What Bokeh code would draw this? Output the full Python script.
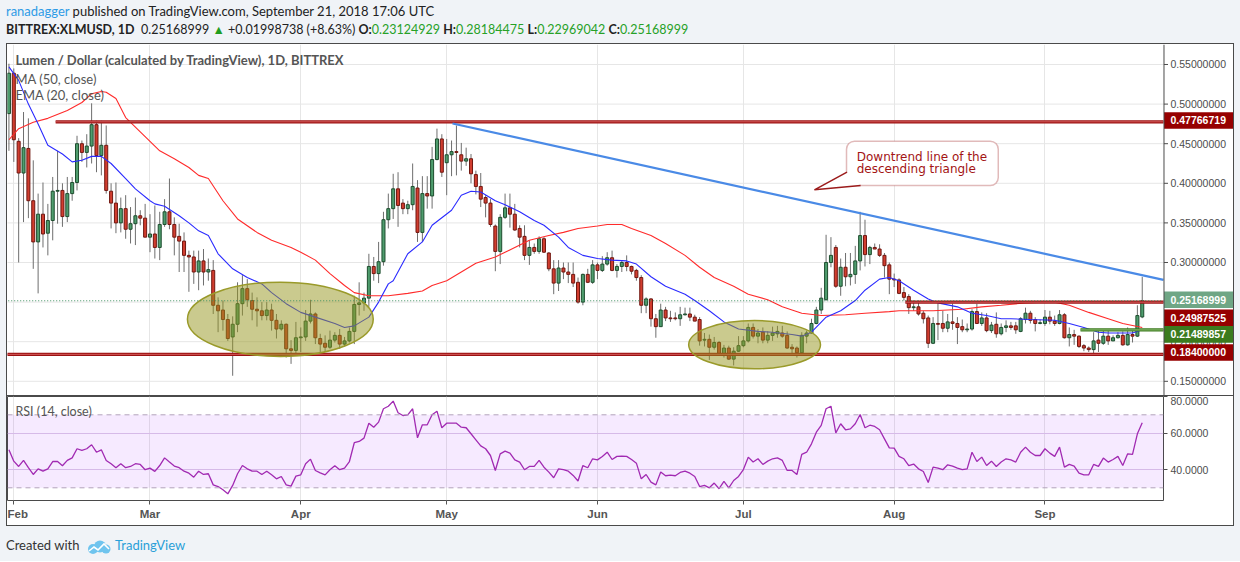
import pandas as pd
from bokeh.plotting import figure
from bokeh.models import (Range1d, FixedTicker, PrintfTickFormatter, MonthsTicker,
                          DatetimeTickFormatter, Label, BoxAnnotation, Div, Span)
from bokeh.core.properties import value
from bokeh.layouts import column
from bokeh.embed import file_html
from bokeh.resources import INLINE

# ---------------- data (daily candles, 2018-01-31 .. 2018-09-21) ----------------
first_date = "2018-01-31"
opens = [0.488,
    0.539, 0.453, 0.413, 0.444, 0.378, 0.326, 0.361, 0.337, 0.353, 0.390,
    0.391, 0.358, 0.387, 0.401, 0.450, 0.439, 0.447, 0.474, 0.435, 0.448,
    0.390, 0.375, 0.350, 0.368, 0.342, 0.349, 0.359, 0.356, 0.332, 0.336,
    0.319, 0.348, 0.364, 0.348, 0.333, 0.327, 0.309, 0.307, 0.288, 0.302,
    0.288, 0.290, 0.246, 0.240, 0.228, 0.206, 0.222, 0.248, 0.267, 0.252,
    0.241, 0.239, 0.233, 0.240, 0.227, 0.216, 0.222, 0.191, 0.189, 0.205,
    0.206, 0.226, 0.235, 0.204, 0.198, 0.193, 0.202, 0.208, 0.197, 0.201,
    0.213, 0.247, 0.249, 0.255, 0.295, 0.286, 0.301, 0.354, 0.368, 0.393,
    0.375, 0.368, 0.373, 0.394, 0.338, 0.387, 0.384, 0.430, 0.456, 0.426,
    0.436, 0.440, 0.436, 0.428, 0.431, 0.411, 0.396, 0.382, 0.375, 0.346,
    0.314, 0.357, 0.369, 0.361, 0.343, 0.333, 0.309, 0.319, 0.314, 0.330,
    0.312, 0.292, 0.274, 0.293, 0.288, 0.285, 0.275, 0.250, 0.285, 0.275,
    0.297, 0.290, 0.298, 0.306, 0.290, 0.295, 0.300, 0.295, 0.290, 0.281,
    0.246, 0.254, 0.229, 0.219, 0.240, 0.230, 0.230, 0.229, 0.234, 0.235,
    0.231, 0.228, 0.202, 0.203, 0.193, 0.199, 0.185, 0.192, 0.178, 0.188,
    0.195, 0.201, 0.218, 0.207, 0.212, 0.202, 0.208, 0.210, 0.211, 0.208,
    0.193, 0.192, 0.186, 0.207, 0.211, 0.223, 0.240, 0.253, 0.300, 0.319,
    0.270, 0.294, 0.282, 0.285, 0.302, 0.334, 0.310, 0.319, 0.317, 0.309,
    0.297, 0.279, 0.278, 0.262, 0.257, 0.243, 0.244, 0.236, 0.230, 0.198,
    0.223, 0.223, 0.217, 0.225, 0.223, 0.219, 0.215, 0.216, 0.238, 0.223,
    0.230, 0.214, 0.222, 0.210, 0.218, 0.220, 0.220, 0.213, 0.228, 0.236,
    0.228, 0.223, 0.223, 0.231, 0.226, 0.223, 0.234, 0.205, 0.209, 0.207,
    0.195, 0.192, 0.190, 0.202, 0.198, 0.207, 0.201, 0.205, 0.208, 0.196,
    0.209, 0.207, 0.23124929]
highs = [0.551,
    0.545, 0.457, 0.490, 0.482, 0.429, 0.387, 0.401, 0.374, 0.408, 0.441,
    0.400, 0.408, 0.408, 0.460, 0.454, 0.462, 0.501, 0.479, 0.479, 0.473,
    0.400, 0.401, 0.382, 0.385, 0.370, 0.382, 0.366, 0.374, 0.361, 0.372,
    0.364, 0.380, 0.406, 0.357, 0.349, 0.338, 0.315, 0.315, 0.315, 0.317,
    0.305, 0.303, 0.256, 0.252, 0.235, 0.232, 0.275, 0.284, 0.279, 0.262,
    0.256, 0.250, 0.250, 0.248, 0.235, 0.227, 0.223, 0.202, 0.225, 0.218,
    0.240, 0.253, 0.237, 0.210, 0.208, 0.214, 0.212, 0.216, 0.206, 0.218,
    0.258, 0.275, 0.262, 0.311, 0.307, 0.326, 0.364, 0.387, 0.412, 0.414,
    0.380, 0.378, 0.425, 0.404, 0.409, 0.409, 0.446, 0.469, 0.462, 0.456,
    0.454, 0.473, 0.451, 0.445, 0.437, 0.416, 0.413, 0.385, 0.380, 0.348,
    0.361, 0.387, 0.387, 0.374, 0.347, 0.347, 0.328, 0.324, 0.333, 0.332,
    0.313, 0.303, 0.303, 0.300, 0.300, 0.300, 0.281, 0.286, 0.292, 0.303,
    0.300, 0.308, 0.313, 0.315, 0.298, 0.303, 0.309, 0.296, 0.292, 0.284,
    0.256, 0.255, 0.235, 0.248, 0.244, 0.239, 0.237, 0.244, 0.243, 0.243,
    0.234, 0.231, 0.211, 0.209, 0.206, 0.201, 0.196, 0.195, 0.193, 0.207,
    0.207, 0.223, 0.223, 0.216, 0.218, 0.213, 0.219, 0.220, 0.220, 0.213,
    0.197, 0.194, 0.212, 0.214, 0.229, 0.244, 0.268, 0.335, 0.332, 0.322,
    0.305, 0.312, 0.312, 0.321, 0.364, 0.354, 0.321, 0.324, 0.323, 0.312,
    0.300, 0.286, 0.280, 0.269, 0.260, 0.252, 0.252, 0.239, 0.233, 0.231,
    0.248, 0.239, 0.235, 0.248, 0.231, 0.228, 0.223, 0.241, 0.248, 0.237,
    0.236, 0.225, 0.237, 0.223, 0.227, 0.225, 0.225, 0.231, 0.243, 0.239,
    0.231, 0.228, 0.240, 0.239, 0.233, 0.240, 0.236, 0.218, 0.215, 0.208,
    0.197, 0.194, 0.212, 0.214, 0.216, 0.214, 0.208, 0.212, 0.213, 0.218,
    0.216, 0.246, 0.28184475]
lows = [0.441,
    0.427, 0.300, 0.351, 0.356, 0.292, 0.261, 0.319, 0.309, 0.328, 0.349,
    0.345, 0.351, 0.378, 0.391, 0.427, 0.420, 0.425, 0.414, 0.410, 0.387,
    0.343, 0.337, 0.338, 0.330, 0.324, 0.322, 0.347, 0.332, 0.313, 0.305,
    0.303, 0.345, 0.342, 0.309, 0.288, 0.288, 0.263, 0.273, 0.265, 0.271,
    0.277, 0.235, 0.212, 0.214, 0.201, 0.157, 0.212, 0.233, 0.244, 0.227,
    0.219, 0.227, 0.227, 0.214, 0.204, 0.214, 0.180, 0.172, 0.185, 0.187,
    0.201, 0.223, 0.197, 0.185, 0.187, 0.191, 0.199, 0.191, 0.194, 0.199,
    0.197, 0.233, 0.239, 0.244, 0.277, 0.274, 0.296, 0.343, 0.355, 0.345,
    0.361, 0.361, 0.366, 0.326, 0.326, 0.368, 0.368, 0.429, 0.408, 0.385,
    0.409, 0.410, 0.416, 0.422, 0.400, 0.386, 0.370, 0.357, 0.345, 0.289,
    0.298, 0.355, 0.344, 0.340, 0.319, 0.303, 0.297, 0.311, 0.311, 0.312,
    0.289, 0.260, 0.264, 0.279, 0.274, 0.269, 0.248, 0.246, 0.274, 0.273,
    0.279, 0.288, 0.296, 0.289, 0.281, 0.288, 0.289, 0.285, 0.277, 0.236,
    0.236, 0.219, 0.205, 0.219, 0.226, 0.225, 0.227, 0.220, 0.233, 0.226,
    0.226, 0.195, 0.194, 0.177, 0.190, 0.183, 0.180, 0.177, 0.170, 0.187,
    0.193, 0.199, 0.204, 0.198, 0.198, 0.198, 0.201, 0.205, 0.205, 0.191,
    0.184, 0.180, 0.184, 0.198, 0.210, 0.222, 0.235, 0.252, 0.294, 0.268,
    0.258, 0.270, 0.271, 0.273, 0.290, 0.295, 0.298, 0.317, 0.307, 0.281,
    0.260, 0.269, 0.260, 0.252, 0.235, 0.239, 0.233, 0.223, 0.192, 0.197,
    0.202, 0.212, 0.212, 0.215, 0.197, 0.212, 0.212, 0.214, 0.223, 0.220,
    0.212, 0.211, 0.205, 0.208, 0.212, 0.215, 0.210, 0.212, 0.223, 0.223,
    0.213, 0.222, 0.220, 0.222, 0.220, 0.222, 0.204, 0.194, 0.196, 0.192,
    0.188, 0.187, 0.184, 0.187, 0.196, 0.196, 0.201, 0.204, 0.195, 0.195,
    0.199, 0.206, 0.22969042]
closes = [0.539,
    0.455, 0.413, 0.445, 0.378, 0.326, 0.361, 0.336, 0.353, 0.390, 0.391,
    0.358, 0.387, 0.401, 0.450, 0.439, 0.447, 0.474, 0.435, 0.448, 0.391,
    0.375, 0.350, 0.368, 0.342, 0.349, 0.359, 0.356, 0.332, 0.336, 0.319,
    0.348, 0.364, 0.348, 0.332, 0.327, 0.309, 0.307, 0.288, 0.302, 0.288,
    0.291, 0.246, 0.239, 0.228, 0.204, 0.222, 0.248, 0.267, 0.253, 0.241,
    0.239, 0.233, 0.240, 0.227, 0.216, 0.222, 0.191, 0.189, 0.205, 0.206,
    0.226, 0.235, 0.205, 0.197, 0.193, 0.202, 0.208, 0.197, 0.201, 0.213,
    0.247, 0.249, 0.255, 0.295, 0.286, 0.301, 0.354, 0.368, 0.393, 0.372,
    0.368, 0.373, 0.396, 0.338, 0.387, 0.384, 0.430, 0.456, 0.414, 0.436,
    0.440, 0.439, 0.428, 0.431, 0.412, 0.396, 0.380, 0.375, 0.348, 0.314,
    0.357, 0.369, 0.361, 0.341, 0.332, 0.309, 0.319, 0.314, 0.330, 0.313,
    0.292, 0.274, 0.293, 0.288, 0.285, 0.274, 0.250, 0.285, 0.275, 0.297,
    0.290, 0.298, 0.306, 0.290, 0.295, 0.300, 0.295, 0.289, 0.281, 0.246,
    0.254, 0.229, 0.219, 0.240, 0.230, 0.229, 0.229, 0.234, 0.235, 0.231,
    0.226, 0.201, 0.203, 0.193, 0.199, 0.185, 0.192, 0.178, 0.188, 0.195,
    0.201, 0.218, 0.207, 0.211, 0.202, 0.208, 0.211, 0.213, 0.207, 0.192,
    0.191, 0.186, 0.208, 0.211, 0.223, 0.240, 0.255, 0.300, 0.309, 0.270,
    0.294, 0.282, 0.285, 0.302, 0.334, 0.310, 0.319, 0.317, 0.309, 0.296,
    0.279, 0.278, 0.261, 0.256, 0.243, 0.244, 0.235, 0.229, 0.198, 0.223,
    0.222, 0.217, 0.225, 0.223, 0.218, 0.215, 0.216, 0.238, 0.223, 0.230,
    0.214, 0.221, 0.210, 0.218, 0.220, 0.218, 0.215, 0.229, 0.236, 0.227,
    0.223, 0.224, 0.231, 0.226, 0.223, 0.234, 0.205, 0.209, 0.207, 0.194,
    0.192, 0.190, 0.201, 0.198, 0.207, 0.201, 0.205, 0.208, 0.196, 0.209,
    0.207, 0.233, 0.25168999]

# RSI(14) per day, same dates as candles
rsi_vals = [50.8,
    44.6, 41.7, 45.0, 41.0, 37.3, 40.4, 39.1, 40.4, 44.4, 44.4,
    42.1, 45.0, 46.4, 51.4, 50.5, 51.4, 53.6, 49.5, 50.8, 45.0,
    43.2, 41.0, 43.2, 41.0, 41.7, 43.2, 42.8, 39.9, 40.8, 39.0,
    42.2, 46.4, 44.1, 41.9, 41.0, 39.1, 38.0, 35.8, 39.1, 37.3,
    37.7, 31.6, 30.7, 28.9, 26.7, 31.3, 37.7, 42.2, 40.4, 39.1,
    39.1, 37.3, 39.1, 37.1, 34.9, 36.2, 31.6, 30.9, 36.4, 37.1,
    43.2, 45.7, 39.5, 38.2, 37.1, 39.9, 42.1, 39.9, 40.8, 44.4,
    54.7, 55.4, 57.2, 65.4, 63.2, 66.0, 73.3, 74.7, 77.5, 71.1,
    69.6, 70.0, 73.3, 57.4, 64.5, 64.5, 70.0, 72.0, 62.9, 65.4,
    65.4, 65.4, 63.2, 62.9, 59.6, 56.3, 53.0, 51.4, 47.7, 39.5,
    48.6, 50.1, 49.0, 45.3, 44.1, 39.9, 41.7, 41.7, 45.0, 41.3,
    38.6, 35.5, 40.4, 39.9, 39.1, 36.8, 33.7, 42.2, 41.0, 45.9,
    45.3, 47.2, 49.5, 45.5, 47.2, 47.4, 47.2, 45.5, 43.5, 34.9,
    37.3, 33.1, 31.6, 38.6, 36.6, 36.9, 36.6, 38.4, 39.1, 38.0,
    36.2, 30.7, 31.3, 30.0, 32.6, 29.5, 33.5, 30.0, 34.0, 36.2,
    40.0, 46.8, 44.1, 45.9, 42.8, 44.6, 45.9, 46.4, 45.0, 39.5,
    39.5, 37.3, 48.3, 49.5, 54.1, 60.5, 64.2, 73.3, 74.7, 60.1,
    65.1, 61.8, 62.3, 65.1, 70.2, 62.9, 64.3, 63.6, 61.8, 56.8,
    51.9, 51.7, 47.2, 45.9, 42.1, 43.0, 40.4, 38.9, 32.9, 41.3,
    40.8, 39.9, 42.6, 41.9, 40.8, 39.9, 40.4, 49.5, 44.4, 46.8,
    42.2, 44.6, 41.7, 44.1, 45.9, 45.3, 44.1, 49.5, 52.3, 49.5,
    47.7, 47.7, 51.4, 49.0, 47.2, 52.3, 41.3, 42.8, 41.9, 38.0,
    37.1, 37.1, 42.8, 41.7, 46.3, 44.1, 45.5, 47.2, 42.2, 48.6,
    48.3, 59.6, 65.6]

# moving averages: day offset from 2018-02-01, value
ma50_days = [-1, 1, 4, 7, 11, 14, 16, 18, 19, 21, 23, 26, 30, 33, 36, 38, 40, 43, 46, 50,
             53, 57, 59, 62, 65, 68, 70, 73, 77, 81, 84, 86, 89, 92, 95, 99, 103, 106, 110, 113,
             116, 120, 122, 125, 127, 131, 134, 138, 141, 144, 148, 151, 155, 158, 162, 166, 171,
             175, 180, 182, 189, 195, 199, 203, 208, 212, 214, 217, 221, 225, 228, 232]
ma50_vals = [0.455, 0.469, 0.477, 0.482, 0.492, 0.502, 0.513, 0.516, 0.515, 0.507, 0.483, 0.465,
             0.441, 0.431, 0.420, 0.410, 0.406, 0.378, 0.355, 0.338, 0.328, 0.319, 0.313, 0.303,
             0.286, 0.271, 0.262, 0.258, 0.258, 0.261, 0.264, 0.271, 0.277, 0.288, 0.299, 0.307,
             0.319, 0.328, 0.334, 0.338, 0.343, 0.346, 0.348, 0.348, 0.343, 0.334, 0.324, 0.309,
             0.294, 0.281, 0.270, 0.260, 0.253, 0.244, 0.236, 0.233, 0.234, 0.236, 0.238, 0.239,
             0.239, 0.241, 0.244, 0.246, 0.249, 0.250, 0.250, 0.246, 0.237, 0.229, 0.223, 0.218]
ema20_days = [-1, 1, 3, 5, 7, 10, 12, 14, 16, 18, 20, 23, 25, 28, 29, 31, 34, 36, 38, 40, 42,
              45, 48, 51, 53, 56, 59, 62, 66, 68, 70, 73, 75, 77, 78, 81, 84, 86, 90, 92, 94, 96,
              99, 101, 104, 107, 109, 112, 114, 117, 120, 123, 126, 128, 131, 134, 138, 140, 143,
              146, 149, 153, 156, 160, 162, 164, 167, 170, 173, 175, 178, 180, 182, 185, 188, 190,
              194, 197, 200, 203, 205, 209, 214, 217, 220, 223, 225, 228, 230, 232]
ema20_vals = [0.547, 0.530, 0.500, 0.475, 0.448, 0.437, 0.427, 0.429, 0.434, 0.434, 0.425, 0.406,
              0.393, 0.378, 0.374, 0.371, 0.359, 0.350, 0.340, 0.334, 0.311, 0.292, 0.281, 0.273,
              0.262, 0.248, 0.237, 0.231, 0.223, 0.218, 0.220, 0.231, 0.250, 0.273, 0.277, 0.311,
              0.326, 0.347, 0.366, 0.385, 0.390, 0.389, 0.378, 0.373, 0.364, 0.353, 0.347, 0.332,
              0.319, 0.309, 0.305, 0.303, 0.302, 0.298, 0.282, 0.270, 0.260, 0.252, 0.239, 0.225,
              0.216, 0.213, 0.212, 0.209, 0.207, 0.212, 0.231, 0.239, 0.252, 0.265, 0.279, 0.281,
              0.277, 0.265, 0.254, 0.249, 0.244, 0.236, 0.233, 0.229, 0.229, 0.228, 0.227, 0.223,
              0.218, 0.212, 0.211, 0.211, 0.211, 0.215]

# drawings
red_levels = [0.47766719, 0.24987525, 0.18400000]
red_level_from = [8.6, 183.3, -3.0]
green_level = 0.21489857
green_level_from = 219.3
last_price = 0.25168999
trend_days = [90.2, 236.37]
trend_vals = [0.4755, 0.2780]
ellipse_days = [54.8, 152.3]
ellipse_widths = [38.2, 27.1]
ellipse_prices = [0.2283, 0.1962]
ellipse_heights = [0.0938, 0.0610]
price_ticks = [0.15, 0.20, 0.25, 0.30, 0.35, 0.40, 0.45, 0.50, 0.55]
rsi_ticks = [40, 60, 80]
month_starts = ["2018-02-01", "2018-03-01", "2018-04-01", "2018-05-01",
                "2018-06-01", "2018-07-01", "2018-08-01", "2018-09-01"]
# price tags on the price scale: text, displayed centre (price units), colour
tags = [("0.47766719", 0.4793, "#960000"), ("0.25168999", 0.2530, "#6fa685"),
        ("0.24987525", 0.2303, "#960000"), ("0.21489857", 0.2093, "#3b7b1e"),
        ("0.18400000", 0.1864, "#960000")]

# ---------------- helpers ----------------
DAY = 86400000.0
BASE = pd.Timestamp("2018-02-01").value / 1e6
def dx(d):
    return BASE + d * DAY
def px_day(px):           # page pixel column -> day offset (layout helper)
    return (px - 13.3) / 4.864
PX = 0.05 / 39.6           # price units per pixel

first = pd.Timestamp(first_date).value / 1e6
xs = [first + i * DAY for i in range(len(closes))]
up = [c >= o for o, c in zip(opens, closes)]
tops = [max(o, c) for o, c in zip(opens, closes)]
bots = [min(o, c) for o, c in zip(opens, closes)]
fills = ["#4f9d6e" if u else "#d13d2f" for u in up]
edges = ["#1d4d2e" if u else "#701710" for u in up]
month_ms = [pd.Timestamp(m).value / 1e6 for m in month_starts]

AX_FONT = "Liberation Sans"
GRID = "#e6e6e6"
PANE_END = 236.37          # right edge of the candle pane (day offset)
AXIS_X = dx(px_day(1163.5))

# ---------------- main price pane (frame also holds the price scale) ----------------
p = figure(frame_width=1226, frame_height=351,
           x_range=Range1d(dx(-1.295), dx(px_day(1233))), y_range=Range1d(0.13207, 0.57525),
           x_axis_type="datetime", x_axis_location=None, y_axis_location=None,
           output_backend="svg", toolbar_location=None,
           min_border_left=0, min_border_right=0, min_border_top=0, min_border_bottom=0,
           outline_line_color=None, background_fill_color="white", border_fill_color="white")
p.ygrid.visible = False
p.xgrid.ticker = FixedTicker(ticks=month_ms)
p.xgrid.grid_line_color = GRID

# horizontal grid, price scale ticks and labels
p.segment(x0=dx(-3), x1=AXIS_X, y0=price_ticks, y1=price_ticks, line_color=GRID, line_width=1)
p.segment(x0=AXIS_X, x1=dx(px_day(1167.5)), y0=price_ticks, y1=price_ticks,
          line_color="#4d4d4d", line_width=1)
p.text(x=dx(px_day(1170)), y=price_ticks, text=["%.8f" % t for t in price_ticks],
       text_font=value(AX_FONT), text_font_size="10.5px", text_color="#4d4d4d",
       text_baseline="middle", text_align="left")

# candles
p.segment(x0=xs, y0=highs, x1=xs, y1=lows, line_color="#6e6e6e", line_width=1)
p.vbar(x=xs, top=tops, bottom=bots, width=0.62 * DAY, fill_color=fills, line_color=edges, line_width=1)

# indicators
p.line([dx(d) for d in ma50_days], ma50_vals, line_color="#ff2b2b", line_width=1.1)
p.line([dx(d) for d in ema20_days], ema20_vals, line_color="#2b2bff", line_width=1.1)

# horizontal levels
for lv, st in zip(red_levels, red_level_from):
    p.line([dx(st), dx(PANE_END)], [lv, lv], line_color="#9c1212", line_width=3.2)
    p.line([dx(st), dx(PANE_END)], [lv, lv], line_color="#d35a5a", line_width=1)
p.line([dx(green_level_from), dx(PANE_END)], [green_level, green_level], line_color="#3d7a1f", line_width=3.2)
p.line([dx(green_level_from), dx(PANE_END)], [green_level, green_level], line_color="#8cbf74", line_width=1)

# trend line
p.line([dx(d) for d in trend_days], trend_vals, line_color="#4a8ae6", line_width=2.2)

# ellipses
p.ellipse(x=[dx(d) for d in ellipse_days], y=ellipse_prices,
          width=[w * DAY for w in ellipse_widths], height=ellipse_heights,
          fill_color="#96961e", fill_alpha=0.5, line_color="#9a9a2a", line_width=1.5)

# last price dotted line
p.line([dx(-3), dx(PANE_END)], [last_price, last_price], line_color="#3f8f60",
       line_dash="1 2", line_width=1)

# price scale line
p.add_layout(Span(location=AXIS_X, dimension="height", line_color="#4a4a4a", line_width=1))

# price tags
tag_left = AXIS_X
tag_right = dx(px_day(1234))
p.quad(left=tag_left, right=tag_right, top=[t[1] + 8.3 * PX for t in tags],
       bottom=[t[1] - 8.3 * PX for t in tags], fill_color=[t[2] for t in tags], line_color=None)
for txt, yy, col in tags:
    p.add_layout(Label(x=dx(px_day(1170)), y=yy, text=txt, text_font=AX_FONT,
                       text_font_style="bold", text_font_size="10.5px", text_color="white",
                       text_baseline="middle", text_align="left"))

# callout
p.add_layout(BoxAnnotation(left=dx(171.2), right=dx(202.4), top=0.4532, bottom=0.3972,
                           fill_color="white", fill_alpha=1.0, line_color="#9b1b1b",
                           line_width=1.5, border_radius=8))
p.patch([dx(164.6), dx(171.3), dx(174.1)], [0.3918, 0.4140, 0.3972],
        fill_color="white", line_color=None, level="overlay")
p.line([dx(171.3), dx(164.6), dx(174.1)], [0.4140, 0.3918, 0.3972],
       line_color="#9b1b1b", line_width=1.5, level="overlay")
for txt, yy in [("Downtrend line of the", 0.4330), ("descending triangle", 0.4183)]:
    p.add_layout(Label(x=dx(173.3), y=yy, text=txt, text_font="DejaVu Sans",
                       text_font_size="12px", text_color="#a31414",
                       text_baseline="middle", text_align="left"))

# legend texts
p.add_layout(Label(x=dx(0.35), y=0.5551, text="Lumen / Dollar (calculated by TradingView), 1D, BITTREX",
                   text_font="Lato", text_font_style="bold", text_font_size="13px",
                   text_color="#555555", text_baseline="middle", text_align="left"))
p.add_layout(Label(x=dx(0.35), y=0.5323, text="MA (50, close)", text_font="Lato",
                   text_font_size="13px", text_color="#555555", text_baseline="middle"))
p.add_layout(Label(x=dx(0.35), y=0.5109, text="EMA (20, close)", text_font="Lato",
                   text_font_size="13px", text_color="#555555", text_baseline="middle"))

# ---------------- RSI pane ----------------
FW = 1156
p2 = figure(frame_width=FW, frame_height=104, x_range=Range1d(dx(-1.295), dx(PANE_END)),
            y_range=Range1d(23.04, 80.03),
            x_axis_type="datetime", x_axis_location="below", y_axis_location="right",
            output_backend="svg", toolbar_location=None,
            min_border_left=0, min_border_right=70, min_border_top=0, min_border_bottom=25,
            outline_line_color="#4a4a4a", background_fill_color="white", border_fill_color="white")
p2.xaxis.ticker = MonthsTicker(months=list(range(12)))
p2.xaxis.formatter = DatetimeTickFormatter(months="%b", days="%b", years="%b")
p2.xaxis.major_label_text_font = AX_FONT
p2.xaxis.major_label_text_font_style = "bold"
p2.xaxis.major_label_text_font_size = "11.5px"
p2.xaxis.major_label_text_color = "#555555"
p2.xaxis.axis_line_color = None
p2.xaxis.major_tick_out = 4
p2.xaxis.major_tick_in = 0
p2.xaxis.major_tick_line_color = "#555555"
p2.xaxis.minor_tick_line_color = None
p2.xaxis.major_label_standoff = 3
p2.yaxis.ticker = FixedTicker(ticks=rsi_ticks)
p2.yaxis.formatter = PrintfTickFormatter(format="%.4f")
p2.yaxis.major_label_text_font = AX_FONT
p2.yaxis.major_label_text_font_size = "10.5px"
p2.yaxis.major_label_text_color = "#4d4d4d"
p2.yaxis.major_tick_out = 4
p2.yaxis.major_tick_in = 0
p2.yaxis.minor_tick_line_color = None
p2.yaxis.major_tick_line_color = "#4d4d4d"
p2.yaxis.axis_line_color = None
p2.yaxis.major_label_standoff = 3
p2.xgrid.ticker = MonthsTicker(months=list(range(12)))
p2.xgrid.grid_line_color = GRID
p2.ygrid.ticker = FixedTicker(ticks=[40, 60])
p2.ygrid.grid_line_color = "#dccbe6"

p2.add_layout(BoxAnnotation(bottom=30, top=70, fill_color="#9915ff", fill_alpha=0.09,
                            line_color=None, level="underlay"))
for lv in (30, 70):
    p2.add_layout(Span(location=lv, dimension="width", line_color="#b3a3bb",
                       line_dash="5 4", line_width=1))
p2.line(xs, rsi_vals, line_color="#a12ab2", line_width=1.3)
p2.add_layout(Label(x=dx(0.35), y=71.8, text="RSI (14, close)", text_font="Lato",
                    text_font_size="12.5px", text_color="#555555", text_baseline="middle"))

# ---------------- page ----------------
header_html = (
    '<div style="font-family:Lato;color:#222;white-space:nowrap;padding-left:6px;padding-top:4px;">'
    '<div style="height:14px;line-height:14px;font-size:13px;">'
    '<span style="color:#2e9be6">ranadagger</span> published on TradingView.com, '
    'September 21, 2018 17:06 UTC</div>'
    '<div style="height:17px;line-height:17px;margin-top:3px;font-size:12.5px;">'
    '<b>BITTREX:XLMUSD, 1D</b>&nbsp; 0.25168999 <span style="color:#1f9e1f">&#9650;</span> '
    '+0.01998738 (+8.63%) <b>O:</b><span style="color:#27a127">0.23124929</span> '
    '<b>H:</b><span style="color:#27a127">0.28184475</span> '
    '<b>L:</b><span style="color:#27a127">0.22969042</span> '
    '<b>C:</b><span style="color:#27a127">0.25168999</span></div></div>')
header = Div(text=header_html, width=1240, height=43, margin=0,
             styles={"background-color": "#f0f3f7"})
sep = Div(text="", width=1226, height=1, margin=0,
          styles={"background-color": "#4a4a4a", "overflow": "hidden",
                  "font-size": "0px", "line-height": "0px"})
frame = column(p, sep, p2, margin=(0, 0, 0, 6),
               styles={"border": "1px solid #4a4a4a", "background-color": "white"})
footer_html = (
    '<div style="font-family:Lato;font-size:13px;color:#333;white-space:nowrap;'
    'padding-left:6px;padding-top:9px;line-height:20px;">Created with &nbsp;'
    '<svg width="26" height="14" viewBox="0 0 26 14" style="vertical-align:middle">'
    '<circle cx="7" cy="9" r="5" fill="#6fc4ee"/><circle cx="14" cy="6.5" r="6" fill="#6fc4ee"/>'
    '<circle cx="20" cy="9" r="4.5" fill="#6fc4ee"/>'
    '<polyline points="3,11 8,7 12,10 18,4 23,9" stroke="white" stroke-width="1.6" fill="none"/>'
    '</svg>&nbsp;<span style="color:#2a9fd8">TradingView</span></div>')
footer = Div(text=footer_html, width=1240, height=35, margin=0,
             styles={"background-color": "#f0f3f7"})

layout = column(header, frame, footer, width=1240,
                styles={"background-color": "#f0f3f7"})
open("out.html", "w").write(file_html(layout, INLINE))
